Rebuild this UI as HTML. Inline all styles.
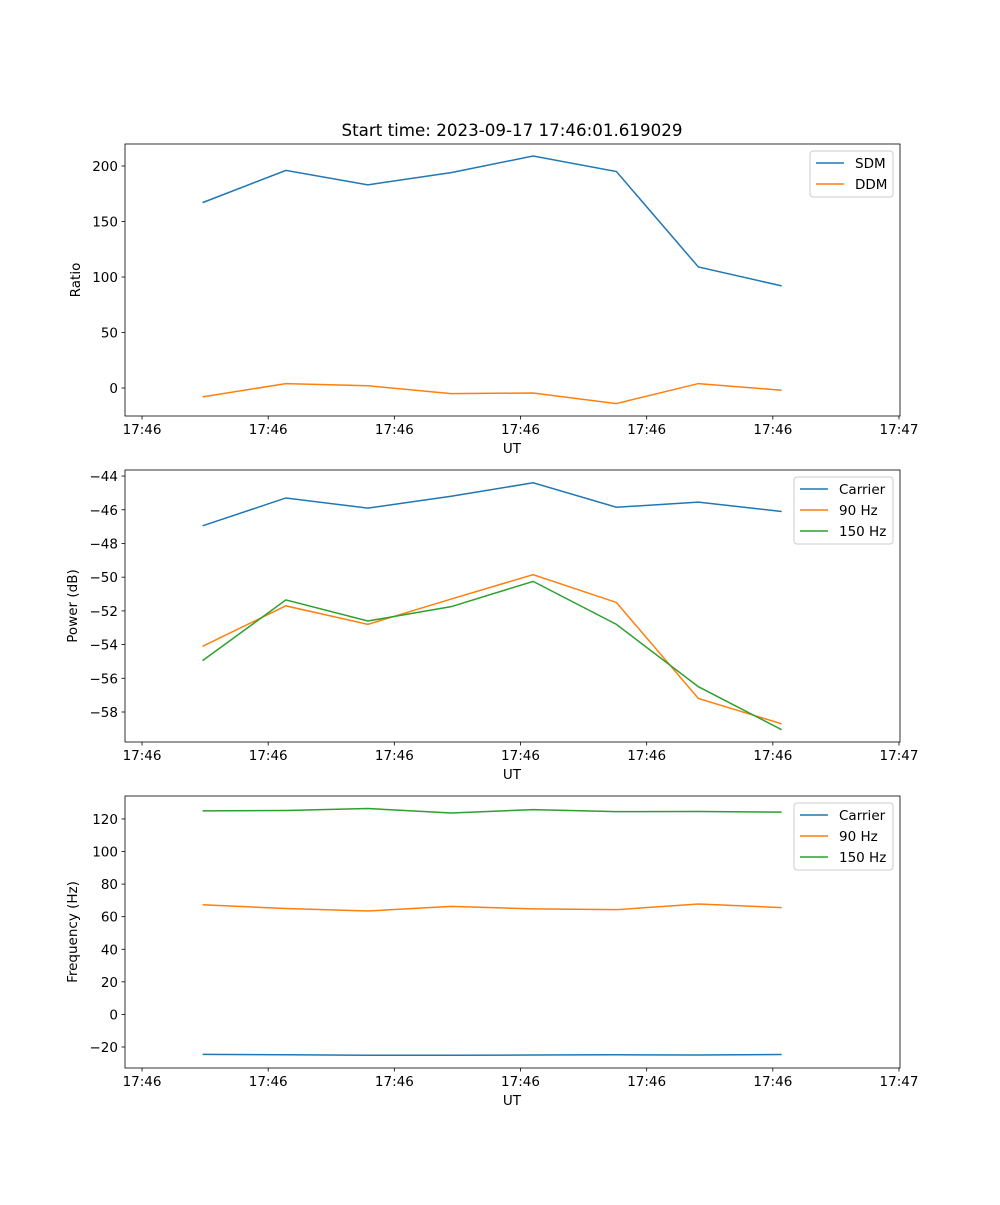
<!DOCTYPE html>
<html><head><meta charset="utf-8"><style>
body{margin:0;background:#fff;}
svg text{font-family:"DejaVu Sans","Liberation Sans",sans-serif;fill:#000;}
</style></head><body>
<svg id="fig" width="1000" height="1200" xmlns="http://www.w3.org/2000/svg">
<rect width="1000" height="1200" fill="#fff"/>
<text x="512" y="136" font-size="16.7" text-anchor="middle">Start time: 2023-09-17 17:46:01.619029</text>
</svg>
<script>
const times = [4.8, 11.4, 17.9, 24.5, 31.0, 37.6, 44.1, 50.7];
const xTicks = [0, 10, 20, 30, 40, 50, 60];
const xTickLabels = ["17:46","17:46","17:46","17:46","17:46","17:46","17:47"];
const sdm = [167, 196, 183, 194, 209, 195, 109, 92];
const ddm = [-8, 4, 2, -5, -4.5, -14, 4, -2];
const powCarrier = [-46.95, -45.3, -45.9, -45.2, -44.4, -45.85, -45.55, -46.1];
const pow90 = [-54.1, -51.7, -52.8, -51.3, -49.85, -51.5, -57.2, -58.7];
const pow150 = [-54.95, -51.35, -52.6, -51.75, -50.25, -52.8, -56.5, -59.05];
const freqCarrier = [-24.5, -24.8, -25.1, -25.1, -24.9, -24.8, -24.9, -24.6];
const freq90 = [67.3, 65.0, 63.5, 66.3, 64.8, 64.3, 67.8, 65.6];
const freq150 = [125.0, 125.2, 126.4, 123.7, 125.7, 124.5, 124.6, 124.2];
const ratioTicks = [0, 50, 100, 150, 200];
const powTicks = [-58, -56, -54, -52, -50, -48, -46, -44];
const freqTicks = [-20, 0, 20, 40, 60, 80, 100, 120];

const NS = "http://www.w3.org/2000/svg";
const svg = document.getElementById('fig');
const BLUE="#1f77b4", ORANGE="#ff7f0e", GREEN="#2ca02c";
function mk(tag, attrs, parent){const e=document.createElementNS(NS,tag);for(const k in attrs)e.setAttribute(k,attrs[k]);(parent||svg).appendChild(e);return e;}

function panel(cfg){
  const L=125,R=900,T=cfg.top,B=cfg.top+272;
  const xmin=-1.35,xmax=60.08;
  const xs=v=>L+(v-xmin)/(xmax-xmin)*(R-L);
  const ys=v=>B-(v-cfg.ymin)/(cfg.ymax-cfg.ymin)*(B-T);
  const g=mk('g',{});
  
  
  cfg.series.forEach(s=>{
    const p=mk('polyline',{points:times.map((t,i)=>xs(t)+','+ys(s.data[i])).join(' '),fill:'none',stroke:s.color,'stroke-width':1.5},g);
    
    
  });
  const fr=mk('rect',{x:L,y:T,width:R-L,height:B-T,fill:'none',stroke:'#000','stroke-width':0.8},g);
  
  
  xTicks.forEach((v,i)=>{
    mk('line',{x1:xs(v),x2:xs(v),y1:B,y2:B+3.5,stroke:'#000','stroke-width':0.8},g);
    const t=mk('text',{x:xs(v),y:B+18,'font-size':13.5,'text-anchor':'middle'},g);
    t.textContent=xTickLabels[i];
    
    
  });
  cfg.ticks.forEach(v=>{
    mk('line',{x1:L-3.5,x2:L,y1:ys(v),y2:ys(v),stroke:'#000','stroke-width':0.8},g);
    const t=mk('text',{x:L-7,y:ys(v)+5,'font-size':13.5,'text-anchor':'end'},g);
    t.textContent=String(v).replace('-','\u2212');
    
    
  });
  const xl=mk('text',{x:512,y:B+37,'font-size':13.5,'text-anchor':'middle'},g);
  xl.textContent='UT';
  
  
  const yl=mk('text',{x:0,y:0,'font-size':13.5,'text-anchor':'middle',transform:`translate(${cfg.ylx},${(T+B)/2}) rotate(-90)`},g);
  yl.textContent=cfg.ylabel;
  
  
  const lw=cfg.legW, lx=R-7-lw, ly=T+7, lh=cfg.series.length*21+4;
  const lg=mk('g',{},g);
  
  
  mk('rect',{x:lx,y:ly,width:lw,height:lh,rx:3,fill:'#fff',stroke:'#ccc','stroke-width':1},lg);
  cfg.series.forEach((s,i)=>{
    const yy=ly+12+i*21;
    mk('line',{x1:lx+6,x2:lx+34,y1:yy,y2:yy,stroke:s.color,'stroke-width':1.5},lg);
    const t=mk('text',{x:lx+45,y:yy+5,'font-size':13.5},lg);
    t.textContent=s.label;
    
    
  });
}
panel({name:'ratio-panel',top:144,ymin:-25.2,ymax:219.8,ticks:ratioTicks,ylabel:'Ratio',ylx:80,legW:83,
  series:[{id:'sdm',label:'SDM',data:sdm,color:BLUE},{id:'ddm',label:'DDM',data:ddm,color:ORANGE}]});
panel({name:'power-panel',top:470,ymin:-59.78,ymax:-43.64,ticks:powTicks,ylabel:'Power (dB)',ylx:77,legW:99,
  series:[{id:'carrier-power',label:'Carrier',data:powCarrier,color:BLUE},{id:'90hz-power',label:'90 Hz',data:pow90,color:ORANGE},{id:'150hz-power',label:'150 Hz',data:pow150,color:GREEN}]});
panel({name:'frequency-panel',top:796,ymin:-32.9,ymax:134.1,ticks:freqTicks,ylabel:'Frequency (Hz)',ylx:77,legW:99,
  series:[{id:'carrier-freq',label:'Carrier',data:freqCarrier,color:BLUE},{id:'90hz-freq',label:'90 Hz',data:freq90,color:ORANGE},{id:'150hz-freq',label:'150 Hz',data:freq150,color:GREEN}]});
</script>
</body></html>
